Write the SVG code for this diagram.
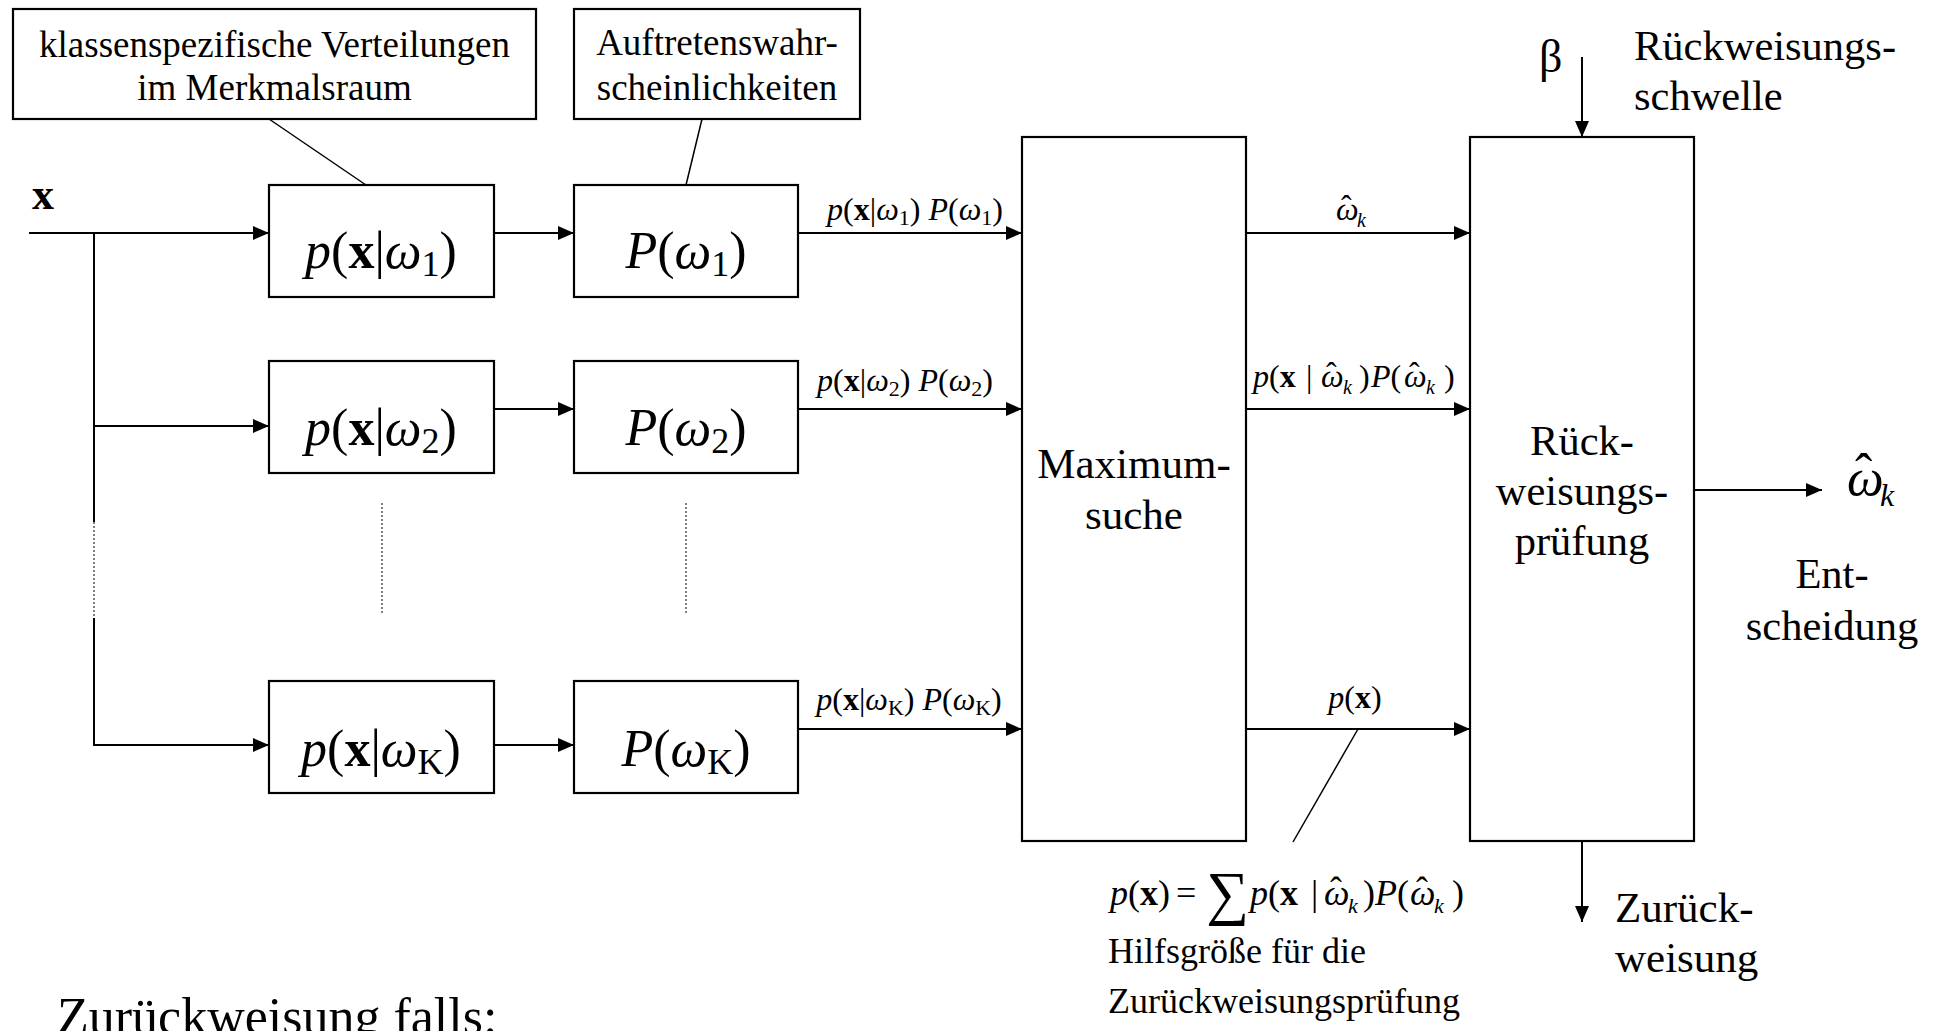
<svg xmlns="http://www.w3.org/2000/svg" width="1935" height="1031" viewBox="0 0 1935 1031">
<defs>
<marker id="ah" markerUnits="userSpaceOnUse" markerWidth="16" markerHeight="14" refX="16" refY="7" orient="auto">
<path d="M0,0 L16,7 L0,14 z" fill="#000"/>
</marker>
<style>
text{font-family:"Liberation Serif","Times New Roman",serif;fill:#000}
.box{fill:#fff;stroke:#000;stroke-width:2.2}
.ln{fill:none;stroke:#000;stroke-width:2}
.arr{fill:none;stroke:#000;stroke-width:2;marker-end:url(#ah)}
.thin{fill:none;stroke:#000;stroke-width:1.5}
.dot{fill:none;stroke:#000;stroke-width:1;stroke-dasharray:2,2}
.ann{font-size:37px}
.lbl{font-size:42.5px}
.big{font-size:52px}
.sm{font-size:32px}
.i{font-style:italic}
.b{font-weight:bold}
</style>
</defs>
<g id="connectors">
<path class="arr" d="M29,233 H269"/>
<path class="ln" d="M94,233 V522"/>
<path class="dot" d="M94,522 V618"/>
<path class="arr" d="M94,618 V745 H269"/>
<path class="arr" d="M94,426 H269"/>
<path class="arr" d="M494,233 H574"/>
<path class="arr" d="M494,409 H574"/>
<path class="arr" d="M494,745 H574"/>
<path class="arr" d="M798,233 H1022"/>
<path class="arr" d="M798,409 H1022"/>
<path class="arr" d="M798,729 H1022"/>
<path class="arr" d="M1246,233 H1470"/>
<path class="arr" d="M1246,409 H1470"/>
<path class="arr" d="M1246,729 H1470"/>
<path class="arr" d="M1582,57 V137"/>
<path class="arr" d="M1694,490 H1822"/>
<path class="arr" d="M1582,841 V922"/>
<path class="thin" d="M269,119 L366,185"/>
<path class="thin" d="M702,119 L686,185"/>
<path class="thin" d="M1358,729 L1293,842"/>
<path class="dot" d="M382,503 V615"/>
<path class="dot" d="M686,503 V615"/>
</g>
<g id="ann-verteilungen">
<rect class="box" x="13" y="9" width="523" height="110"/>
<text class="ann" x="274.5" y="57" text-anchor="middle">klassenspezifische Verteilungen</text>
<text class="ann" x="274.5" y="100" text-anchor="middle">im Merkmalsraum</text>
</g>
<g id="ann-auftreten">
<rect class="box" x="574" y="9" width="286" height="110"/>
<text class="ann" x="717" y="55" text-anchor="middle">Auftretenswahr-</text>
<text class="ann" x="717" y="100" text-anchor="middle">scheinlichkeiten</text>
</g>
<g id="input-x">
<text x="32" y="209" font-size="44" class="b">x</text>
</g>
<g id="p1">
<rect class="box" x="269" y="185" width="225" height="112"/>
<text class="big" x="381" y="268" text-anchor="middle"><tspan class="i">p</tspan>(<tspan class="b">x</tspan>|<tspan class="i">ω</tspan><tspan font-size="36" dy="8">1</tspan><tspan dy="-8">)</tspan></text>
</g>
<g id="P1">
<rect class="box" x="574" y="185" width="224" height="112"/>
<text class="big" x="686" y="268" text-anchor="middle"><tspan class="i">P</tspan>(<tspan class="i">ω</tspan><tspan font-size="36" dy="8">1</tspan><tspan dy="-8">)</tspan></text>
</g>
<g id="p2">
<rect class="box" x="269" y="361" width="225" height="112"/>
<text class="big" x="381" y="445" text-anchor="middle"><tspan class="i">p</tspan>(<tspan class="b">x</tspan>|<tspan class="i">ω</tspan><tspan font-size="36" dy="8">2</tspan><tspan dy="-8">)</tspan></text>
</g>
<g id="P2">
<rect class="box" x="574" y="361" width="224" height="112"/>
<text class="big" x="686" y="445" text-anchor="middle"><tspan class="i">P</tspan>(<tspan class="i">ω</tspan><tspan font-size="36" dy="8">2</tspan><tspan dy="-8">)</tspan></text>
</g>
<g id="pK">
<rect class="box" x="269" y="681" width="225" height="112"/>
<text class="big" x="381" y="766" text-anchor="middle"><tspan class="i">p</tspan>(<tspan class="b">x</tspan>|<tspan class="i">ω</tspan><tspan font-size="36" dy="8">K</tspan><tspan dy="-8">)</tspan></text>
</g>
<g id="PK">
<rect class="box" x="574" y="681" width="224" height="112"/>
<text class="big" x="686" y="766" text-anchor="middle"><tspan class="i">P</tspan>(<tspan class="i">ω</tspan><tspan font-size="36" dy="8">K</tspan><tspan dy="-8">)</tspan></text>
</g>
<g id="labels-products">
<text class="sm" x="915" y="220" text-anchor="middle"><tspan class="i">p</tspan>(<tspan class="b">x</tspan>|<tspan class="i">ω</tspan><tspan font-size="22" dy="5">1</tspan><tspan dy="-5">) </tspan><tspan class="i">P</tspan>(<tspan class="i">ω</tspan><tspan font-size="22" dy="5">1</tspan><tspan dy="-5">)</tspan></text>
<text class="sm" x="905" y="391" text-anchor="middle"><tspan class="i">p</tspan>(<tspan class="b">x</tspan>|<tspan class="i">ω</tspan><tspan font-size="22" dy="5">2</tspan><tspan dy="-5">) </tspan><tspan class="i">P</tspan>(<tspan class="i">ω</tspan><tspan font-size="22" dy="5">2</tspan><tspan dy="-5">)</tspan></text>
<text class="sm" x="909" y="710" text-anchor="middle"><tspan class="i">p</tspan>(<tspan class="b">x</tspan>|<tspan class="i">ω</tspan><tspan font-size="22" dy="5">K</tspan><tspan dy="-5">) </tspan><tspan class="i">P</tspan>(<tspan class="i">ω</tspan><tspan font-size="22" dy="5">K</tspan><tspan dy="-5">)</tspan></text>
</g>
<g id="maximumsuche">
<rect class="box" x="1022" y="137" width="224" height="704"/>
<text x="1134" y="478" font-size="43" text-anchor="middle">Maximum-</text>
<text x="1134" y="529" font-size="43" text-anchor="middle">suche</text>
</g>
<g id="labels-max-out">
<text class="sm"><tspan x="1336" y="220" class="i">ω</tspan><tspan x="1341" y="217">ˆ</tspan><tspan x="1357" y="227" class="i" font-size="20">k</tspan></text>
<text class="sm" y="387"><tspan x="1253" y="387" class="i">p</tspan>(<tspan class="b">x</tspan><tspan x="1306">|</tspan><tspan x="1321" class="i">ω</tspan><tspan x="1326" y="384">ˆ</tspan><tspan x="1343" y="394" class="i" font-size="20">k</tspan><tspan x="1359" y="387">)</tspan><tspan x="1371" class="i">P</tspan>(<tspan x="1404" class="i">ω</tspan><tspan x="1409" y="384">ˆ</tspan><tspan x="1426" y="394" class="i" font-size="20">k</tspan><tspan x="1444" y="387">)</tspan></text>
<text class="sm" x="1355" y="708" text-anchor="middle"><tspan class="i">p</tspan>(<tspan class="b">x</tspan>)</text>
</g>
<g id="rueckweisungspruefung">
<rect class="box" x="1470" y="137" width="224" height="704"/>
<text class="lbl" x="1582" y="455" text-anchor="middle">Rück-</text>
<text class="lbl" x="1582" y="505" text-anchor="middle">weisungs-</text>
<text class="lbl" x="1582" y="555" text-anchor="middle">prüfung</text>
</g>
<g id="schwelle">
<text x="1539" y="72" font-size="46">β</text>
<text class="lbl" x="1634" y="60">Rückweisungs-</text>
<text class="lbl" x="1634" y="110">schwelle</text>
</g>
<g id="entscheidung">
<text font-size="52"><tspan x="1847" y="495" class="i">ω</tspan><tspan x="1855" y="490">ˆ</tspan><tspan x="1880" y="506" class="i" font-size="32">k</tspan></text>
<text class="lbl" x="1832" y="588" text-anchor="middle">Ent-</text>
<text class="lbl" x="1832" y="640" text-anchor="middle">scheidung</text>
</g>
<g id="zurueckweisung">
<text x="1615" y="922" font-size="43">Zurück-</text>
<text x="1615" y="972" font-size="43">weisung</text>
</g>
<g id="hilfsgroesse">
<text font-size="36"><tspan x="1110" y="905" class="i">p</tspan>(<tspan class="b">x</tspan>)<tspan x="1176">=</tspan><tspan x="1206" y="913" font-size="60">∑</tspan><tspan x="1250" y="905" class="i">p</tspan>(<tspan class="b">x</tspan><tspan x="1311">|</tspan><tspan x="1324" class="i">ω</tspan><tspan x="1330" y="902">ˆ</tspan><tspan x="1348" y="913" class="i" font-size="22">k</tspan><tspan x="1363" y="905">)</tspan><tspan x="1375" class="i">P</tspan>(<tspan x="1410" class="i">ω</tspan><tspan x="1416" y="902">ˆ</tspan><tspan x="1434" y="913" class="i" font-size="22">k</tspan><tspan x="1452" y="905">)</tspan></text>
<text x="1108" y="963" font-size="36">Hilfsgröße für die</text>
<text x="1108" y="1013" font-size="36">Zurückweisungsprüfung</text>
</g>
<g id="falls">
<text x="57" y="1034" font-size="52">Zurückweisung falls:</text>
</g>
</svg>
